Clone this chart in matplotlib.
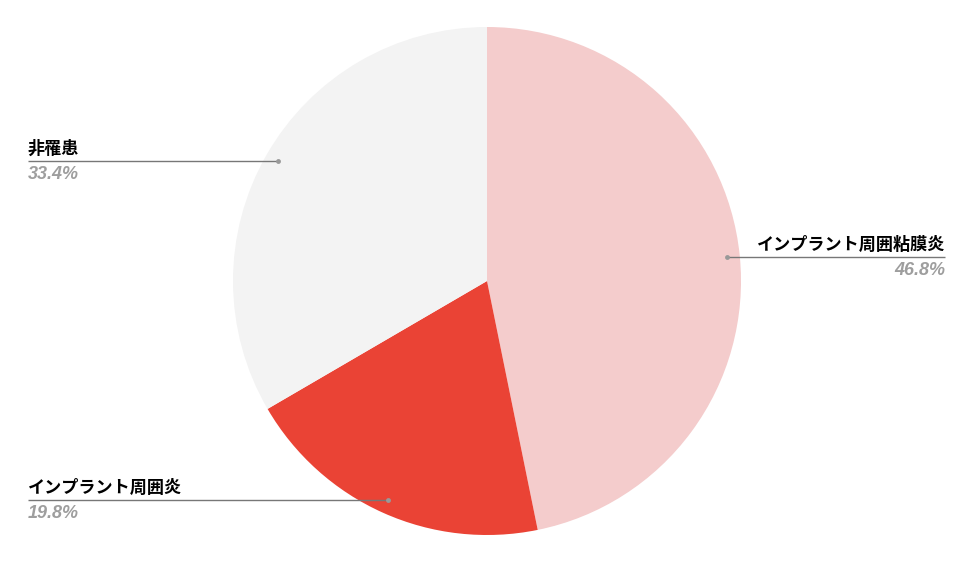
import matplotlib
matplotlib.use("Agg")
import matplotlib.pyplot as plt

labels = ["インプラント周囲粘膜炎", "インプラント周囲炎", "非罹患"]
values = [46.8, 19.8, 33.4]
pct_labels = ["46.8%", "19.8%", "33.4%"]
colors = ["#f4cccc", "#ea4335", "#f3f3f3"]

W, H = 974, 563
fig = plt.figure(figsize=(W / 100, H / 100), dpi=100)
ax = fig.add_axes([0, 0, 1, 1])

cx, cy, r = 487, 281, 254
# y axis is inverted below, so data-counterclockwise is visually clockwise
ax.pie(values, colors=colors, startangle=-90, counterclock=True,
       center=(cx, cy), radius=r, frame=True,
       wedgeprops=dict(linewidth=0))
ax.set_xlim(0, W)
ax.set_ylim(H, 0)
ax.set_aspect("equal")
ax.axis("off")

jp = ["Noto Sans CJK JP", "DejaVu Sans"]
# label layout: (dot x, dot y, line end x, align)
layout = [
    (727, 257, 945, "right"),
    (388, 500, 28, "left"),
    (278, 161, 28, "left"),
]
for (dx, dy, ex, ha), name, pct in zip(layout, labels, pct_labels):
    ax.plot([dx, ex], [dy, dy], color="#777777", lw=1.0, solid_capstyle="butt")
    ax.plot([dx], [dy], "o", color="#999999", ms=3.5, mec="none")
    ax.text(ex, dy - 3, name, ha=ha, va="bottom", fontsize=12.3,
            fontweight="bold", family=jp, color="#000000")
    ax.text(ex, dy + 5, pct, ha=ha, va="top", fontsize=13,
            fontweight="bold", style="italic", family=["Liberation Sans"],
            color="#9e9e9e")

fig.savefig("out.png", dpi=100, facecolor="white")
